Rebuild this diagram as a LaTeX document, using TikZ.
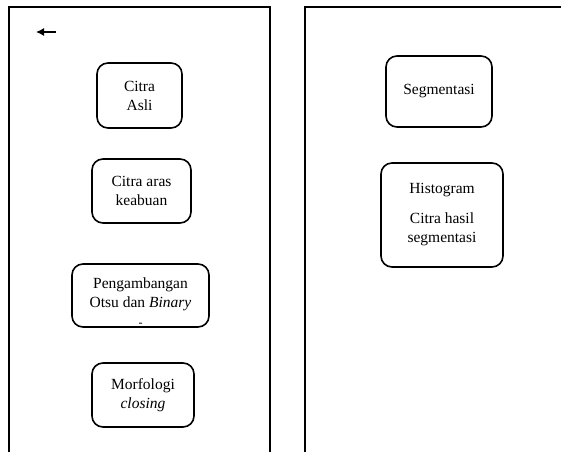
\documentclass[tikz,border=0pt]{standalone}
\usepackage{fontspec}
\setmainfont{Liberation Serif}
\newfontfamily\tnr{Liberation Serif}
\usetikzlibrary{arrows.meta}
\begin{document}
\begin{tikzpicture}[x=1pt,y=-1pt,
  frame/.style={line width=1.3pt,black},
  box/.style={draw,line width=1.6pt,rounded corners=11pt,align=center,inner sep=0pt,
    font=\tnr\fontsize{15.5}{19}\selectfont},
  txt/.style={align=center,inner sep=0pt,font=\tnr\fontsize{15.5}{19}\selectfont},
  arr/.style={line width=1.2pt,-{Latex[length=8pt,width=8pt]}}]
\useasboundingbox (0,0) rectangle (561,452);
% panels
\draw[frame] (9,452) -- (9,7) -- (270,7) -- (270,452);
\draw[frame] (305,452) -- (305,7) -- (561,7);
% arrow
\coordinate (as) at (56,32);
\coordinate (ae) at (36,32);
\draw[arr] (as) -- (ae);
% left boxes
\node[box,minimum width=85,minimum height=65] (asli) at (139.5,95.5) {Citra\\Asli};
\node[box,minimum width=99,minimum height=64] (abu) at (141.5,191) {Citra aras\\keabuan};
\node[box,minimum width=137,minimum height=63] (otsu) at (140.5,295.5) {};
\node[txt] (otsut) at (140.5,302) {Pengambangan\\Otsu dan \textit{Binary}\\{\fontsize{12}{10}\selectfont -}};
\node[box,minimum width=102,minimum height=64] (morf) at (143,395) {Morfologi\\\textit{closing}};
% right boxes
\node[box,minimum width=106,minimum height=71] (seg) at (439,91.5) {Segmentasi};
\node[box,minimum width=122,minimum height=104] (hist) at (442,215) {Histogram\\[11pt]Citra hasil\\segmentasi};
\end{tikzpicture}
\end{document}
